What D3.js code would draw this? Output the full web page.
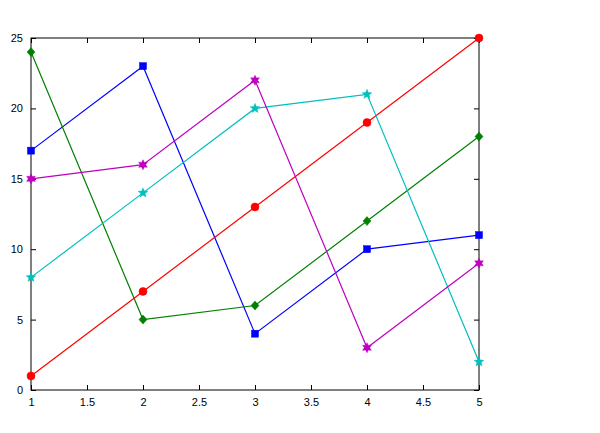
<!DOCTYPE html>
<html><head><meta charset="utf-8">
<script src="https://cdn.jsdelivr.net/npm/d3@7"></script>
<style>body{margin:0;background:#fff}text{font-family:"Liberation Sans",Arial,sans-serif;font-size:11px}</style>
</head><body><svg id="c" width="600" height="433"></svg>
<script>
const xs = [1,2,3,4,5];
const blue = [17,23,4,10,11];
const green = [24,5,6,12,18];
const red = [1,7,13,19,25];
const cyan = [8,14,20,21,2];
const magenta = [15,16,22,3,9];
const xTicks = [1,1.5,2,2.5,3,3.5,4,4.5,5];
const yTicks = [0,5,10,15,20,25];
const series = [
  {v:blue, c:"#0000ff", m:"square"},
  {v:green, c:"#008000", m:"diamond"},
  {v:red, c:"#ff0000", m:"circle"},
  {v:cyan, c:"#00bfbf", m:"star5"},
  {v:magenta, c:"#bf00bf", m:"star6"}
];
const L=31,R=479,T=38,B=390;
const x=d3.scaleLinear().domain([1,5]).range([L,R]);
const y=d3.scaleLinear().domain([0,25]).range([B,T]);
const svg=d3.select("#c");
svg.append("rect").attr("x",L).attr("y",T).attr("width",R-L).attr("height",B-T).attr("fill","#fff");
const gx=svg.append("g").attr("transform",`translate(0,${B})`).call(d3.axisBottom(x).tickValues(xTicks).tickFormat(d3.format("")).tickSizeInner(-5).tickSizeOuter(0).tickPadding(8));
const gxt=svg.append("g").attr("transform",`translate(0,${T})`).call(d3.axisTop(x).tickValues(xTicks).tickFormat("").tickSizeInner(-5).tickSizeOuter(0));
const gy=svg.append("g").attr("transform",`translate(${L},0)`).call(d3.axisLeft(y).tickValues(yTicks).tickSizeInner(-5).tickSizeOuter(0).tickPadding(8));
const gyr=svg.append("g").attr("transform",`translate(${R},0)`).call(d3.axisRight(y).tickValues(yTicks).tickFormat("").tickSizeInner(-5).tickSizeOuter(0));
[gx,gxt,gy,gyr].forEach(g=>{g.select(".domain").remove();g.selectAll("line").attr("stroke","#000");g.selectAll("text").attr("fill","#000").style("font-size","11px");});
svg.append("rect").attr("x",L).attr("y",T).attr("width",R-L).attr("height",B-T).attr("fill","none").attr("stroke","#000").attr("stroke-width",1);
function starPath(n,ro,ri){let p=[];for(let i=0;i<2*n;i++){const r=i%2?ri:ro;const a=-Math.PI/2+i*Math.PI/n;p.push([r*Math.cos(a),r*Math.sin(a)]);}return "M"+p.map(q=>q.join(",")).join("L")+"Z";}
const line=d3.line().x((d,i)=>x(xs[i])).y(d=>y(d));
series.forEach(s=>{
  svg.append("path").attr("d",line(s.v)).attr("fill","none").attr("stroke",s.c).attr("stroke-width",1.2);
  const g=svg.append("g");
  s.v.forEach((d,i)=>{
    const cx=x(xs[i]),cy=y(d);
    let p;
    if(s.m==="square") p=g.append("rect").attr("x",cx-3.5).attr("y",cy-3.5).attr("width",7).attr("height",7);
    else if(s.m==="circle") p=g.append("circle").attr("cx",cx).attr("cy",cy).attr("r",4);
    else if(s.m==="diamond") p=g.append("path").attr("d","M0,-4.5L4,0L0,4.5L-4,0Z").attr("transform",`translate(${cx},${cy})`);
    else if(s.m==="star5") p=g.append("path").attr("d",starPath(5,5,2.2)).attr("transform",`translate(${cx},${cy})`);
    else p=g.append("path").attr("d",starPath(6,5,2.7)).attr("transform",`translate(${cx},${cy})`);
    p.attr("fill",s.c).attr("stroke",s.c).attr("stroke-width",0.5);
  });
});
</script></body></html>
